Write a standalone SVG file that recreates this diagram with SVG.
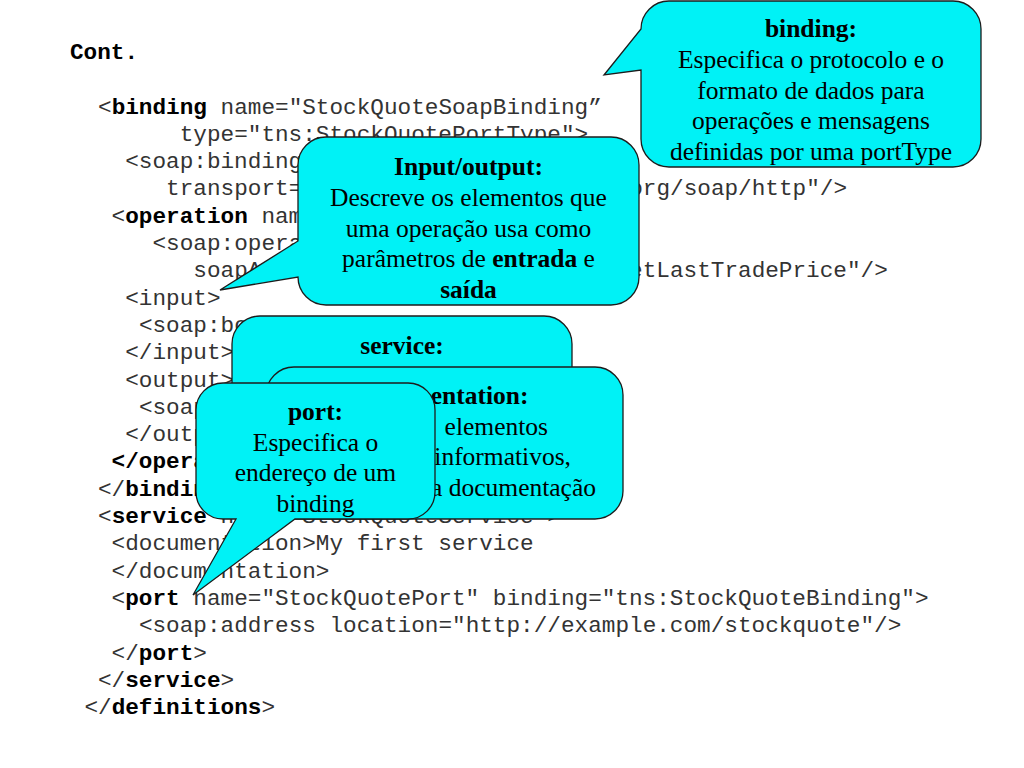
<svg xmlns="http://www.w3.org/2000/svg" width="1024" height="768" viewBox="0 0 1024 768">
<style>
.c{font-family:"Liberation Mono","Courier New",monospace;font-size:22.7px;fill:#333}
.b{font-weight:bold;fill:#000}
.t{font-family:"Liberation Serif","Times New Roman",serif;font-size:25.5px;fill:#000;text-anchor:middle}
.e{text-anchor:end}
.tb{font-weight:bold}
.co{fill:#00f2f6;stroke:#1c1c1c;stroke-width:1.3}
</style>
<rect width="1024" height="768" fill="#fff"/>
<g id="code" class="c">
<text x="70" y="59" class="b">Cont.</text>
<text x="98" y="113.5">&lt;<tspan class="b">binding</tspan> name="StockQuoteSoapBinding”</text>
<text x="179.7" y="140.8">type="tns:StockQuotePortType"&gt;</text>
<text x="125.2" y="168.1">&lt;soap:binding</text>
<text x="166.1" y="195.4">transport=</text>
<text x="629.2" y="195.4">org/soap/http"/&gt;</text>
<text x="111.6" y="222.7">&lt;<tspan class="b">operation</tspan> nam</text>
<text x="152.5" y="250">&lt;soap:opera</text>
<text x="193.3" y="277.3">soapA</text>
<text x="629.1" y="277.3">etLastTradePrice"/&gt;</text>
<text x="125.2" y="304.6">&lt;input&gt;</text>
<text x="138.9" y="331.9">&lt;soap:bo</text>
<text x="125.2" y="359.2">&lt;/input&gt;</text>
<text x="125.2" y="386.5">&lt;output&gt;</text>
<text x="138.9" y="413.8">&lt;soap</text>
<text x="125.2" y="441.1">&lt;/outp</text>
<text x="111.6" y="468.4" class="b">&lt;/opera</text>
<text x="98" y="495.7">&lt;/<tspan class="b">bindin</tspan></text>
<text x="98" y="523">&lt;<tspan class="b">service</tspan> name="StockQuoteService"&gt;</text>
<text x="111.6" y="550.3">&lt;documentation&gt;My first service</text>
<text x="111.6" y="577.6">&lt;/documentation&gt;</text>
<text x="111.6" y="604.9">&lt;<tspan class="b">port</tspan> name="StockQuotePort" binding="tns:StockQuoteBinding"&gt;</text>
<text x="138.9" y="632.2">&lt;soap:address location="http://example.com/stockquote"/&gt;</text>
<text x="111.6" y="659.5">&lt;/<tspan class="b">port</tspan>&gt;</text>
<text x="98" y="686.8">&lt;/<tspan class="b">service</tspan>&gt;</text>
<text x="84.4" y="714.1">&lt;/<tspan class="b">definitions</tspan>&gt;</text>
</g>
<g id="binding-callout">
<path class="co" d="M669,1 H953 A28,28 0 0 1 981,29 V139 A28,28 0 0 1 953,167 H669 A28,28 0 0 1 641,139 V70 L604,75 L641,29 A28,28 0 0 1 669,1 Z"/>
<text class="t" x="811" y="37"><tspan class="tb">binding:</tspan></text>
<text class="t" x="811" y="67.8">Especifica o protocolo e o</text>
<text class="t" x="811" y="98.6">formato de dados para</text>
<text class="t" x="811" y="129.4">operações e mensagens</text>
<text class="t" x="811" y="160.2">definidas por uma portType</text>
</g>
<g id="inputoutput-callout">
<path class="co" d="M326,137 H611 A28,28 0 0 1 639,165 V277 A28,28 0 0 1 611,305 H326 A28,28 0 0 1 298,277 L220,290 L298,241 V165 A28,28 0 0 1 326,137 Z"/>
<text class="t" x="468.5" y="175"><tspan class="tb">Input/output:</tspan></text>
<text class="t" x="468.5" y="205.8">Descreve os elementos que</text>
<text class="t" x="468.5" y="236.6">uma operação usa como</text>
<text class="t" x="468.5" y="267.4">parâmetros de <tspan class="tb">entrada</tspan> e</text>
<text class="t" x="468.5" y="298.2"><tspan class="tb">saída</tspan></text>
</g>
<g id="service-callout">
<rect class="co" x="232" y="316" width="340" height="160" rx="28" ry="28"/>
<text class="t" x="402" y="354"><tspan class="tb">service:</tspan></text>
</g>
<g id="documentation-callout">
<rect class="co" x="266" y="367" width="357" height="152" rx="28" ry="28"/>
<text class="t e" x="528.5" y="403.5"><tspan class="tb">entation:</tspan></text>
<text class="t e" x="548" y="434.5">elementos</text>
<text class="t e" x="571" y="465.3">informativos,</text>
<text class="t e" x="596" y="496">a documentação</text>
</g>
<g id="port-callout">
<path class="co" d="M223,383 H408 A27,27 0 0 1 435,410 V492 A27,27 0 0 1 408,519 H295 L193,595 L236,519 H223 A27,27 0 0 1 196,492 V410 A27,27 0 0 1 223,383 Z"/>
<text class="t" x="315.5" y="420"><tspan class="tb">port:</tspan></text>
<text class="t" x="315.5" y="450.7">Especifica o</text>
<text class="t" x="315.5" y="481.4">endereço de um</text>
<text class="t" x="315.5" y="511.5">binding</text>
</g>
</svg>
